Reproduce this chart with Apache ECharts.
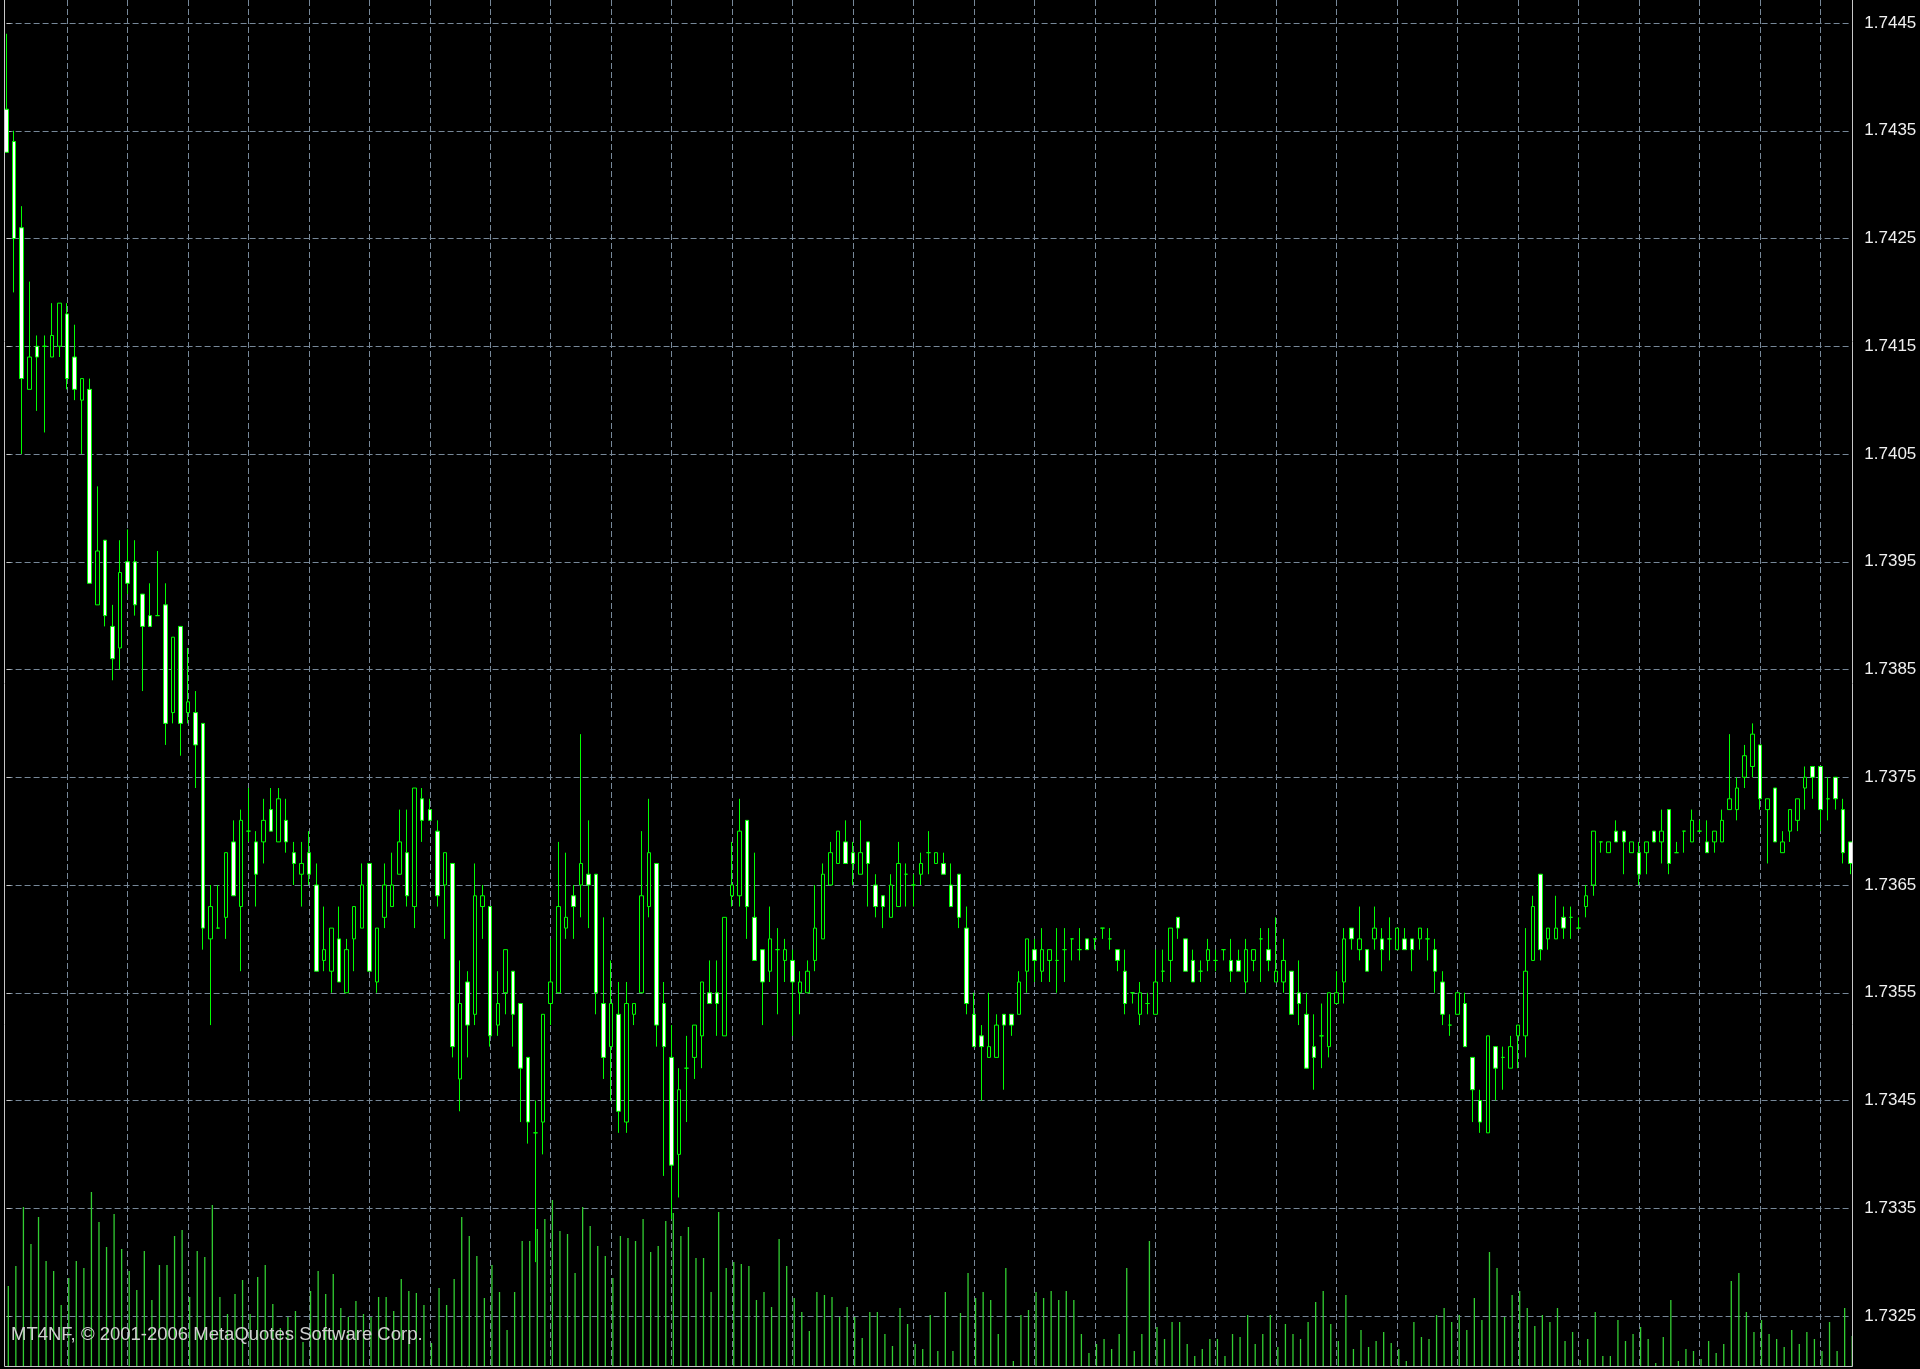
<!DOCTYPE html>
<html>
<head>
<meta charset="utf-8">
<title>GBPUSD candles</title>
<script src="https://cdn.jsdelivr.net/npm/echarts@6/dist/echarts.min.js"></script>
<style>
  html, body { margin: 0; padding: 0; background: #000; }
  #chart { width: 1920px; height: 1369px; }
</style>
</head>
<body>
<div id="chart"></div>
<script>
// OHLC prices, one entry per bar (oldest first)
const opens = [
  1.7437,1.7434,1.7426,1.7411,1.7415,1.7415,1.7414,1.7415,1.7418,1.7414,
  1.7410,1.7411,1.7391,1.7397,1.7389,1.7387,1.7395,1.7395,1.7392,1.7390,
  1.7390,1.7391,1.7381,1.7389,1.7381,1.7381,1.7380,1.7360,1.7361,1.7362,
  1.7369,1.7363,1.7370,1.7369,1.7369,1.7372,1.7369,1.7371,1.7368,1.7366,
  1.7368,1.7365,1.7358,1.7357,1.7360,1.7355,1.7360,1.7361,1.7367,1.7356,
  1.7362,1.7363,1.7366,1.7368,1.7363,1.7373,1.7372,1.7370,1.7365,1.7367,
  1.7347,1.7356,1.7353,1.7363,1.7363,1.7352,1.7355,1.7357,1.7354,1.7349,
  1.7342,1.7343,1.7354,1.7355,1.7361,1.7364,1.7365,1.7366,1.7366,1.7354,
  1.7350,1.7353,1.7343,1.7353,1.7355,1.7363,1.7367,1.7354,1.7349,1.7340,
  1.7348,1.7349,1.7351,1.7355,1.7355,1.7351,1.7364,1.7364,1.7371,1.7362,
  1.7359,1.7357,1.7359,1.7358,1.7358,1.7355,1.7355,1.7358,1.7360,1.7365,
  1.7367,1.7369,1.7368,1.7366,1.7369,1.7365,1.7364,1.7362,1.7363,1.7366,
  1.7365,1.7366,1.7368,1.7367,1.7367,1.7365,1.7366,1.7361,1.7353,1.7351,
  1.7349,1.7349,1.7353,1.7353,1.7353,1.7357,1.7359,1.7357,1.7358,1.7358,
  1.7359,1.7360,1.7359,1.7360,1.7360,1.7361,1.7360,1.7359,1.7357,1.7355,
  1.7353,1.7354,1.7353,1.7357,1.7358,1.7362,1.7360,1.7358,1.7357,1.7358,
  1.7358,1.7359,1.7358,1.7358,1.7356,1.7358,1.7360,1.7359,1.7356,1.7356,
  1.7357,1.7355,1.7353,1.7350,1.7351,1.7350,1.7354,1.7356,1.7361,1.7359,
  1.7359,1.7360,1.7360,1.7360,1.7359,1.7360,1.7360,1.7360,1.7360,1.7359,
  1.7356,1.7352,1.7353,1.7354,1.7349,1.7345,1.7342,1.7350,1.7349,1.7348,
  1.7351,1.7351,1.7358,1.7366,1.7360,1.7360,1.7362,1.7362,1.7361,1.7363,
  1.7365,1.7369,1.7368,1.7370,1.7370,1.7368,1.7368,1.7368,1.7370,1.7369,
  1.7372,1.7368,1.7370,1.7369,1.7370,1.7369,1.7369,1.7369,1.7372,1.7372,
  1.7375,1.7376,1.7378,1.7372,1.7374,1.7368,1.7370,1.7371,1.7374,1.7376,
  1.7376,1.7373,1.7375,1.7372,1.7369
];
const highs = [
  1.7444,1.7435,1.7428,1.7421,1.7416,1.7416,1.7419,1.7419,1.7419,1.7417,
  1.7412,1.7412,1.7402,1.7397,1.7391,1.7397,1.7398,1.7397,1.7392,1.7393,
  1.7396,1.7393,1.7388,1.7389,1.7387,1.7383,1.7380,1.7365,1.7365,1.7368,
  1.7371,1.7372,1.7374,1.7370,1.7373,1.7374,1.7374,1.7373,1.7369,1.7369,
  1.7370,1.7367,1.7363,1.7361,1.7363,1.7360,1.7363,1.7367,1.7367,1.7361,
  1.7367,1.7368,1.7372,1.7372,1.7374,1.7374,1.7373,1.7371,1.7368,1.7367,
  1.7358,1.7357,1.7367,1.7365,1.7363,1.7357,1.7359,1.7357,1.7354,1.7349,
  1.7345,1.7353,1.7360,1.7369,1.7368,1.7365,1.7379,1.7371,1.7366,1.7362,
  1.7358,1.7356,1.7356,1.7354,1.7370,1.7373,1.7367,1.7356,1.7352,1.7348,
  1.7351,1.7352,1.7356,1.7358,1.7358,1.7362,1.7369,1.7373,1.7371,1.7368,
  1.7359,1.7363,1.7361,1.7360,1.7359,1.7357,1.7358,1.7365,1.7367,1.7369,
  1.7370,1.7371,1.7369,1.7371,1.7369,1.7366,1.7364,1.7366,1.7369,1.7367,
  1.7366,1.7368,1.7370,1.7368,1.7368,1.7367,1.7366,1.7363,1.7355,1.7352,
  1.7355,1.7353,1.7353,1.7353,1.7357,1.7360,1.7360,1.7361,1.7359,1.7361,
  1.7361,1.7360,1.7361,1.7360,1.7360,1.7361,1.7361,1.7359,1.7359,1.7355,
  1.7356,1.7355,1.7359,1.7359,1.7361,1.7362,1.7360,1.7359,1.7358,1.7360,
  1.7359,1.7359,1.7360,1.7359,1.7360,1.7359,1.7361,1.7361,1.7362,1.7360,
  1.7357,1.7358,1.7355,1.7353,1.7354,1.7355,1.7357,1.7361,1.7361,1.7363,
  1.7359,1.7363,1.7361,1.7362,1.7361,1.7361,1.7360,1.7361,1.7361,1.7360,
  1.7357,1.7353,1.7355,1.7355,1.7349,1.7346,1.7351,1.7350,1.7350,1.7351,
  1.7352,1.7361,1.7364,1.7366,1.7361,1.7364,1.7363,1.7363,1.7362,1.7365,
  1.7370,1.7369,1.7369,1.7371,1.7370,1.7369,1.7369,1.7369,1.7370,1.7372,
  1.7372,1.7369,1.7370,1.7372,1.7371,1.7371,1.7370,1.7372,1.7379,1.7375,
  1.7378,1.7380,1.7378,1.7373,1.7374,1.7370,1.7372,1.7373,1.7376,1.7376,
  1.7376,1.7375,1.7375,1.7373,1.7369
];
const lows = [
  1.7433,1.7420,1.7405,1.7411,1.7409,1.7407,1.7414,1.7414,1.7411,1.7410,
  1.7405,1.7393,1.7391,1.7389,1.7384,1.7385,1.7392,1.7390,1.7383,1.7389,
  1.7390,1.7378,1.7380,1.7377,1.7380,1.7374,1.7359,1.7352,1.7361,1.7360,
  1.7364,1.7357,1.7369,1.7363,1.7367,1.7370,1.7369,1.7368,1.7365,1.7363,
  1.7365,1.7357,1.7357,1.7355,1.7356,1.7355,1.7357,1.7361,1.7357,1.7355,
  1.7361,1.7363,1.7366,1.7363,1.7361,1.7369,1.7371,1.7363,1.7360,1.7349,
  1.7344,1.7349,1.7352,1.7360,1.7350,1.7351,1.7353,1.7350,1.7343,1.7341,
  1.7330,1.7340,1.7352,1.7355,1.7360,1.7360,1.7362,1.7361,1.7353,1.7347,
  1.7345,1.7342,1.7342,1.7352,1.7355,1.7362,1.7350,1.7338,1.7334,1.7336,
  1.7343,1.7347,1.7348,1.7354,1.7351,1.7351,1.7363,1.7363,1.7360,1.7358,
  1.7352,1.7356,1.7353,1.7356,1.7351,1.7353,1.7355,1.7357,1.7360,1.7365,
  1.7367,1.7367,1.7365,1.7366,1.7363,1.7362,1.7361,1.7362,1.7363,1.7363,
  1.7363,1.7365,1.7366,1.7367,1.7366,1.7363,1.7361,1.7353,1.7350,1.7345,
  1.7349,1.7349,1.7346,1.7351,1.7353,1.7355,1.7356,1.7356,1.7356,1.7355,
  1.7356,1.7358,1.7358,1.7359,1.7359,1.7360,1.7359,1.7357,1.7353,1.7354,
  1.7352,1.7353,1.7353,1.7356,1.7356,1.7360,1.7357,1.7356,1.7356,1.7357,
  1.7357,1.7358,1.7356,1.7357,1.7355,1.7357,1.7356,1.7357,1.7356,1.7355,
  1.7353,1.7352,1.7348,1.7346,1.7348,1.7349,1.7354,1.7354,1.7359,1.7358,
  1.7357,1.7359,1.7357,1.7358,1.7359,1.7359,1.7357,1.7359,1.7358,1.7355,
  1.7352,1.7351,1.7353,1.7350,1.7343,1.7342,1.7342,1.7345,1.7346,1.7348,
  1.7348,1.7349,1.7358,1.7358,1.7359,1.7360,1.7360,1.7360,1.7361,1.7362,
  1.7364,1.7368,1.7368,1.7369,1.7366,1.7368,1.7365,1.7366,1.7369,1.7367,
  1.7366,1.7368,1.7368,1.7369,1.7370,1.7368,1.7368,1.7369,1.7372,1.7371,
  1.7374,1.7375,1.7372,1.7367,1.7369,1.7368,1.7369,1.7370,1.7372,1.7373,
  1.7370,1.7371,1.7372,1.7367,1.7366
];
const closes = [
  1.7433,1.7425,1.7412,1.7414,1.7414,1.7415,1.7416,1.7419,1.7412,1.7411,
  1.7412,1.7393,1.7396,1.7390,1.7386,1.7394,1.7393,1.7391,1.7389,1.7389,
  1.7390,1.7380,1.7388,1.7380,1.7382,1.7378,1.7361,1.7363,1.7361,1.7368,
  1.7364,1.7371,1.7370,1.7366,1.7371,1.7370,1.7373,1.7369,1.7367,1.7367,
  1.7366,1.7357,1.7359,1.7361,1.7356,1.7359,1.7363,1.7365,1.7357,1.7361,
  1.7365,1.7365,1.7369,1.7364,1.7374,1.7371,1.7371,1.7364,1.7368,1.7350,
  1.7354,1.7352,1.7364,1.7364,1.7351,1.7354,1.7359,1.7353,1.7348,1.7343,
  1.7342,1.7353,1.7356,1.7363,1.7362,1.7363,1.7367,1.7365,1.7355,1.7349,
  1.7354,1.7344,1.7354,1.7354,1.7364,1.7368,1.7352,1.7350,1.7339,1.7346,
  1.7348,1.7352,1.7356,1.7354,1.7354,1.7362,1.7365,1.7370,1.7363,1.7358,
  1.7356,1.7360,1.7359,1.7359,1.7356,1.7356,1.7357,1.7361,1.7366,1.7368,
  1.7370,1.7367,1.7367,1.7368,1.7367,1.7363,1.7363,1.7365,1.7367,1.7366,
  1.7365,1.7367,1.7368,1.7368,1.7366,1.7363,1.7362,1.7354,1.7350,1.7350,
  1.7350,1.7352,1.7352,1.7352,1.7356,1.7360,1.7358,1.7359,1.7359,1.7358,
  1.7359,1.7360,1.7359,1.7359,1.7360,1.7361,1.7360,1.7358,1.7354,1.7355,
  1.7355,1.7354,1.7356,1.7357,1.7361,1.7361,1.7357,1.7356,1.7357,1.7359,
  1.7358,1.7359,1.7357,1.7357,1.7359,1.7359,1.7360,1.7358,1.7357,1.7358,
  1.7353,1.7354,1.7348,1.7349,1.7351,1.7355,1.7355,1.7360,1.7360,1.7360,
  1.7357,1.7361,1.7359,1.7360,1.7361,1.7359,1.7359,1.7361,1.7360,1.7357,
  1.7353,1.7352,1.7355,1.7350,1.7346,1.7343,1.7351,1.7348,1.7349,1.7350,
  1.7352,1.7357,1.7363,1.7359,1.7361,1.7361,1.7361,1.7362,1.7361,1.7364,
  1.7370,1.7369,1.7369,1.7369,1.7369,1.7369,1.7366,1.7369,1.7369,1.7370,
  1.7367,1.7368,1.7370,1.7371,1.7370,1.7368,1.7370,1.7371,1.7373,1.7374,
  1.7377,1.7379,1.7373,1.7373,1.7369,1.7369,1.7372,1.7373,1.7375,1.7375,
  1.7372,1.7373,1.7373,1.7368,1.7367
];
// tick volume per bar
const volumes = [
  80,100,159,122,149,105,95,61,88,105,98,174,144,119,152,117,95,76,115,
  66,101,101,130,136,69,115,109,161,69,52,72,86,52,89,101,62,38,49,55,
  24,75,95,72,92,58,49,65,52,49,69,69,55,
  87,75,73,61,23,78,61,87,149,130,110,68,101,74,36,74,125,125,137,147,
  166,135,132,93,159,140,120,110,88,130,128,125,
  147,114,120,145,153,130,139,108,108,74,154,98,104,102,100,66,74,59,127,100,
  68,54,35,74,71,69,49,59,49,28,54,54,
  32,20,58,42,22,17,51,15,74,15,53,93,68,74,66,32,98,5,51,56,
  74,68,75,66,75,66,32,13,22,27,17,32,
  98,15,32,125,39,27,44,44,22,10,17,27,27,10,32,29,51,22,32,51,
  19,42,32,27,44,64,75,42,25,71,17,36,
  19,25,34,23,17,5,44,29,27,51,58,44,51,36,68,46,114,98,49,71,
  75,58,40,51,44,58,25,34,6,27,54,10,
  10,46,25,32,39,27,3,29,66,5,17,15,7,25,13,22,85,93,54,34,
  46,32,27,19,36,22,34,27,15,44,15,58,30
];
// price scale labels
const priceTicks = [1.7325,1.7335,1.7345,1.7355,1.7365,1.7375,1.7385,1.7395,1.7405,1.7415,1.7425,1.7435,1.7445];
const bars = opens.map((_, i) => String(i));

const candles = opens.map((o, i) => [o, closes[i], lows[i], highs[i]]);

const PLOT_LEFT = 6.6;
const PLOT_RIGHT_EDGE = 1850.5;
const PLOT_BOTTOM = 1366;
const GRID_COLOR = '#778899';
const FRAME_COLOR = '#c8c8c8';
const BARS_PER_GRID = 8;

const chart = echarts.init(document.getElementById('chart'), null, { renderer: 'canvas' });

chart.setOption({
  backgroundColor: '#000000',
  animation: false,
  grid: [
    { left: PLOT_LEFT, right: 1920 - PLOT_RIGHT_EDGE, top: 0, height: PLOT_BOTTOM, containLabel: false },
    { left: PLOT_LEFT + 1.7, right: 1920 - PLOT_RIGHT_EDGE - 1.7, top: PLOT_BOTTOM - 400, height: 400, containLabel: false }
  ],
  xAxis: [
    {
      type: 'category', gridIndex: 0, data: bars, boundaryGap: false,
      axisLine: { show: false }, axisTick: { show: false }, axisLabel: { show: false },
      splitLine: { show: false }
    },
    {
      type: 'category', gridIndex: 1, data: bars, boundaryGap: false, show: false,
      splitLine: { show: false }
    },
    {
      // bar-index scale used only for the vertical grid, one line every 8 bars
      type: 'value', gridIndex: 0, position: 'top',
      min: 0, max: bars.length - 1, interval: BARS_PER_GRID,
      axisLine: { show: false }, axisTick: { show: false }, axisLabel: { show: false },
      splitLine: {
        show: true, showMinLine: false, showMaxLine: false,
        lineStyle: { color: GRID_COLOR, width: 1, type: [6, 3] }
      }
    }
  ],
  yAxis: [
    {
      type: 'value', gridIndex: 0, position: 'right', offset: 1.8,
      min: 1.732036, max: 1.7447135,
      axisLine: { show: false },
      axisTick: { show: true, length: 4, customValues: priceTicks, lineStyle: { color: FRAME_COLOR, width: 1 } },
      axisLabel: {
        show: true, customValues: priceTicks, margin: 12,
        color: '#f0f0f0', fontFamily: '"Liberation Sans", Arial, sans-serif', fontSize: 17,
        formatter: (v) => v.toFixed(4)
      },
      splitLine: { show: true, lineStyle: { color: GRID_COLOR, width: 1, type: [6, 3] } }
    },
    {
      type: 'value', gridIndex: 1, min: 0, max: 400, show: false, splitLine: { show: false }
    }
  ],
  series: [
    {
      name: 'Volume', type: 'bar', xAxisIndex: 1, yAxisIndex: 1,
      data: volumes, barWidth: 1.3, silent: true, z: 1,
      itemStyle: { color: '#32cd32' }
    },
    {
      name: 'GBPUSD', type: 'candlestick', xAxisIndex: 0, yAxisIndex: 0,
      data: candles, barWidth: 4, clip: false, silent: true, z: 3,
      itemStyle: {
        color: '#000000', color0: '#ffffff',
        borderColor: '#00ff00', borderColor0: '#00ff00',
        borderColorDoji: '#00ff00', borderWidth: 1
      }
    }
  ],
  graphic: [
    { type: 'line', z: 100, silent: true, shape: { x1: 4.5, y1: 0, x2: 4.5, y2: PLOT_BOTTOM + 0.5 }, style: { stroke: FRAME_COLOR, lineWidth: 1 } },
    { type: 'line', z: 100, silent: true, shape: { x1: 1852.5, y1: 0, x2: 1852.5, y2: PLOT_BOTTOM + 0.5 }, style: { stroke: FRAME_COLOR, lineWidth: 1 } },
    { type: 'line', z: 100, silent: true, shape: { x1: 4.5, y1: PLOT_BOTTOM + 0.5, x2: 1852.5, y2: PLOT_BOTTOM + 0.5 }, style: { stroke: FRAME_COLOR, lineWidth: 1 } },
    {
      type: 'text', z: 100, silent: true, x: 11, y: 1335,
      style: {
        text: 'MT4NF, © 2001-2006 MetaQuotes Software Corp.',
        fill: '#d0d0d0', font: '18.5px "Liberation Sans", Arial, sans-serif',
        textAlign: 'left', textVerticalAlign: 'middle'
      }
    }
  ]
});
</script>
</body>
</html>
